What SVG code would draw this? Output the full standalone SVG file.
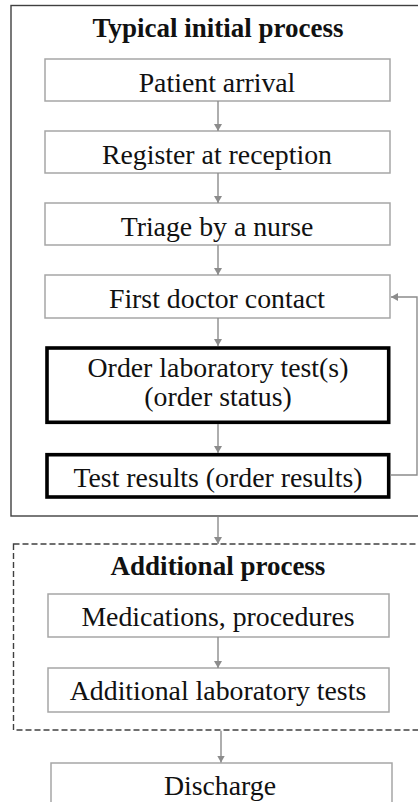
<svg xmlns="http://www.w3.org/2000/svg" width="418" height="802" viewBox="0 0 418 802">
<style>
text{font-family:'Liberation Serif','Times New Roman',serif}
.t{font-size:27.8px;fill:#111;text-anchor:middle}
.h{font-size:27px;font-weight:bold;fill:#111;text-anchor:middle}
.thin{fill:#fff;stroke:#a6a6a6;stroke-width:1.5}
.thick{fill:#fff;stroke:#000;stroke-width:3.6}
.outer{fill:none;stroke:#404040;stroke-width:1.4}
.dash{fill:none;stroke:#404040;stroke-width:1.4;stroke-dasharray:6 3}
.c{fill:none;stroke:#8c8c8c;stroke-width:1.4;marker-end:url(#ah)}
</style>
<defs>
<marker id="ah" markerUnits="userSpaceOnUse" markerWidth="8" markerHeight="8" refX="7" refY="4" orient="auto">
<path d="M0,0 L7,4 L0,8 z" fill="#8c8c8c"/>
</marker>
</defs>
<rect width="418" height="802" fill="#fff"/>
<g id="typical-initial-process">
<rect class="outer" x="11" y="5.5" width="420" height="510.5"/>
<text class="h" x="218" y="37">Typical initial process</text>
</g>
<g id="additional-process">
<rect class="dash" x="13.5" y="544" width="420" height="186"/>
<text class="h" x="218" y="575">Additional process</text>
</g>
<g id="patient-arrival">
<rect class="thin" x="45" y="59" width="345" height="42"/>
<text class="t" x="217" y="91.5">Patient arrival</text>
</g>
<g id="register">
<rect class="thin" x="45" y="131" width="345" height="42"/>
<text class="t" x="217" y="163.5">Register at reception</text>
</g>
<g id="triage">
<rect class="thin" x="45" y="203" width="345" height="42"/>
<text class="t" x="217" y="235.5">Triage by a nurse</text>
</g>
<g id="first-doctor">
<rect class="thin" x="45" y="275" width="345" height="43"/>
<text class="t" x="217" y="308">First doctor contact</text>
</g>
<g id="order-lab">
<rect class="thick" x="47" y="348" width="341.7" height="74.3"/>
<text class="t" x="218" y="377">Order laboratory test(s)</text>
<text class="t" x="218" y="406">(order status)</text>
</g>
<g id="test-results">
<rect class="thick" x="47" y="454.7" width="341.7" height="42.3"/>
<text class="t" x="218" y="487">Test results (order results)</text>
</g>
<g id="medications">
<rect class="thin" x="48" y="594" width="341" height="43"/>
<text class="t" x="218" y="626">Medications, procedures</text>
</g>
<g id="additional-lab">
<rect class="thin" x="48" y="668" width="341" height="44"/>
<text class="t" x="218" y="700">Additional laboratory tests</text>
</g>
<g id="discharge">
<rect class="thin" x="51" y="763" width="341" height="50"/>
<text class="t" x="220" y="795">Discharge</text>
</g>
<g id="connectors">
<line class="c" x1="218" y1="101" x2="218" y2="131"/>
<line class="c" x1="218" y1="173" x2="218" y2="203"/>
<line class="c" x1="218" y1="245" x2="218" y2="275"/>
<line class="c" x1="218" y1="318" x2="218" y2="346"/>
<line class="c" x1="218" y1="424" x2="218" y2="453"/>
<polyline class="c" points="390.5,475 417,475 417,297 391,297"/>
<line class="c" x1="218" y1="516.7" x2="218" y2="544"/>
<line class="c" x1="218" y1="637" x2="218" y2="668"/>
<line class="c" x1="221" y1="730.7" x2="221" y2="762.5"/>
</g>
</svg>
